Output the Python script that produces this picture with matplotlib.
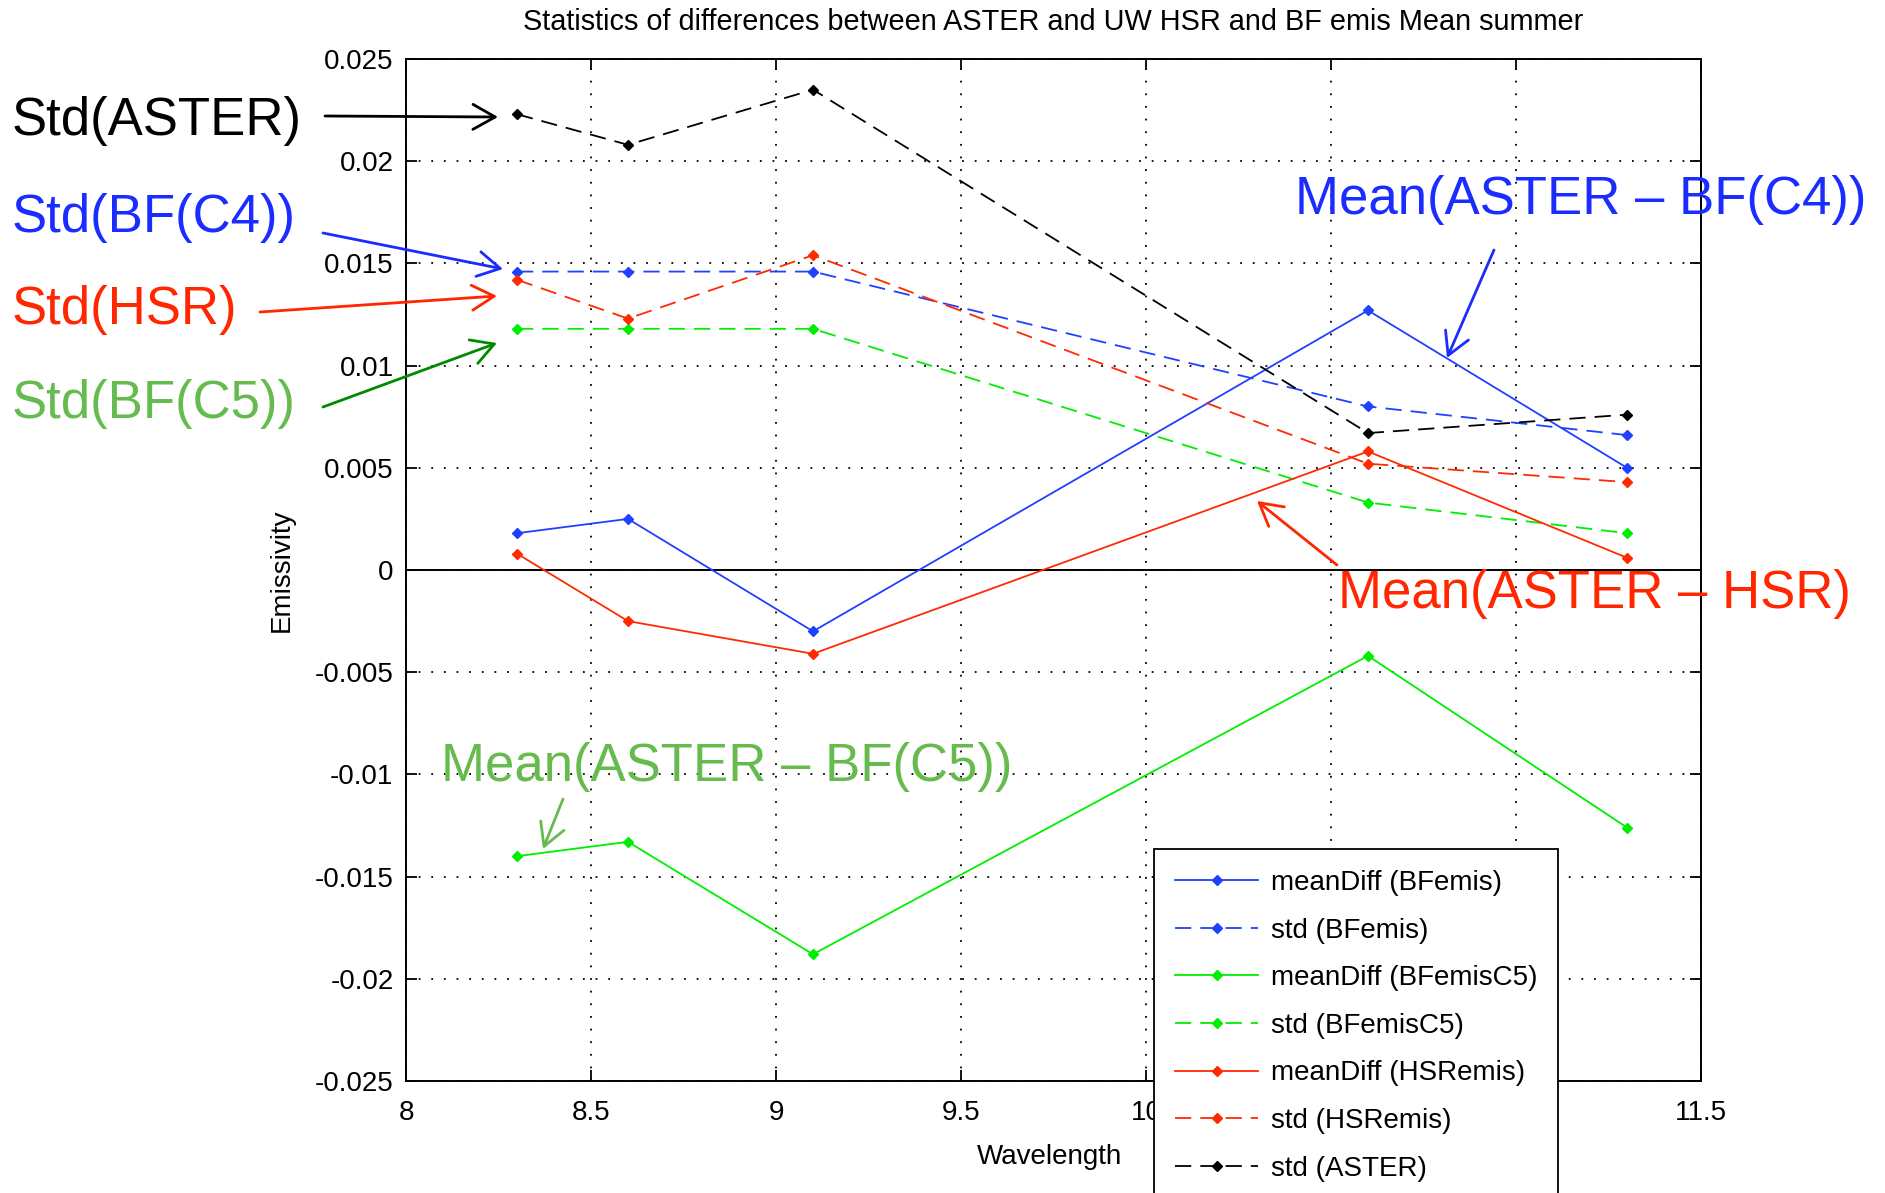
import matplotlib
matplotlib.use("Agg")
import matplotlib.pyplot as plt

plt.rcParams['font.family'] = ['Liberation Sans', 'DejaVu Sans']

# wavelengths of the ASTER TIR bands (um)
wavelength = [8.3, 8.6, 9.1, 10.6, 11.3]

# values
mean_bf = [0.0018, 0.0025, -0.0030, 0.0127, 0.0050]
std_bf = [0.0146, 0.0146, 0.0146, 0.0080, 0.0066]
mean_bf_c5 = [-0.0140, -0.0133, -0.0188, -0.0042, -0.0126]
std_bf_c5 = [0.0118, 0.0118, 0.0118, 0.0033, 0.0018]
mean_hsr = [0.0008, -0.0025, -0.0041, 0.0058, 0.0006]
std_hsr = [0.0142, 0.0123, 0.0154, 0.0052, 0.0043]
std_aster = [0.0223, 0.0208, 0.0235, 0.0067, 0.0076]

legend_labels = ["meanDiff (BFemis)", "std (BFemis)", "meanDiff (BFemisC5)",
                 "std (BFemisC5)", "meanDiff (HSRemis)", "std (HSRemis)",
                 "std (ASTER)"]

x_ticks = [8, 8.5, 9, 9.5, 10, 10.5, 11, 11.5]
y_ticks = [-0.025, -0.02, -0.015, -0.01, -0.005, 0, 0.005, 0.01, 0.015, 0.02, 0.025]
y_tick_labels = ["-0.025", "-0.02", "-0.015", "-0.01", "-0.005", "0",
                 "0.005", "0.01", "0.015", "0.02", "0.025"]

BLUE = "#2040ff"
GREEN = "#00ee00"
RED = "#ff2a00"
DASH = (0, (9, 5))

W, H = 1885, 1193
fig = plt.figure(figsize=(W / 100, H / 100), dpi=100)
ax = fig.add_axes([406 / W, 1 - 1081 / H, (1701 - 406) / W, (1081 - 59) / H])

series = [
    (mean_bf, BLUE, "-"),
    (std_bf, BLUE, DASH),
    (mean_bf_c5, GREEN, "-"),
    (std_bf_c5, GREEN, DASH),
    (mean_hsr, RED, "-"),
    (std_hsr, RED, DASH),
    (std_aster, "black", DASH),
]
for (vals, col, ls), lab in zip(series, legend_labels):
    ax.plot(wavelength, vals, color=col, linestyle=ls, lw=1.3,
            marker="D", ms=5, label=lab)

ax.axhline(0, color="black", lw=1.4, zorder=1)

ax.set_xlim(8, 11.5)
ax.set_ylim(-0.025, 0.025)
ax.set_xticks(x_ticks)
ax.set_xticklabels([f"{t:g}" for t in x_ticks])
ax.set_yticks(y_ticks)
ax.set_yticklabels(y_tick_labels)
ax.grid(True, color="black", linestyle=(0, (1, 6)), lw=1.3)
ax.set_axisbelow(True)
ax.tick_params(direction="in", length=8, width=1.3, top=True, right=True,
               labelsize=20)
ax.tick_params(axis="x", pad=14)
ax.tick_params(axis="y", pad=9)
for sp in ax.spines.values():
    sp.set_linewidth(1.4)

ax.set_xlabel("Wavelength", fontsize=20)
ax.xaxis.set_label_coords(0.497, (1081 - 1144) / 1022)
ax.set_ylabel("Emissivity", fontsize=20)
ax.yaxis.set_label_coords((295 - 406) / 1295, 0.5)
ax.text(0.5, 1 + (59 - 22) / 1022,
        "Statistics of differences between ASTER and UW HSR and BF emis Mean summer",
        transform=ax.transAxes, ha="center", va="center", fontsize=20.8)

leg = ax.legend(loc="upper left", bbox_to_anchor=(1154 / W, 1 - 849 / H),
                bbox_transform=fig.transFigure, borderaxespad=0, fontsize=20,
                fancybox=False, edgecolor="black", framealpha=1,
                handlelength=3.0, handletextpad=0.45, labelspacing=0.78,
                borderpad=0.75, numpoints=1)
leg.get_frame().set_linewidth(1.3)


# callout labels added on top of the figure (pixel positions, y from top)
def fp(x, y):
    return (x, H - y)


callouts = [
    ("Std(ASTER)", "black", "black", (12, 121), (325, 116), (498, 117)),
    ("Std(BF(C4))", "#1a2cff", "#1a2cff", (12, 218), (323, 233), (503, 269)),
    ("Std(HSR)", "#ff2600", "#ff2600", (12, 310), (260, 312), (497, 296)),
    ("Std(BF(C5))", "#66bb4f", "#008a00", (12, 404), (323, 407), (497, 343)),
    ("Mean(ASTER \u2013 BF(C4))", "#1a2cff", "#1a2cff", (1295, 200), (1494, 250), (1447, 358)),
    ("Mean(ASTER \u2013 HSR)", "#ff2600", "#ff2600", (1338, 594), (1337, 565), (1257, 501)),
    ("Mean(ASTER \u2013 BF(C5))", "#66bb4f", "#66bb4f", (441, 767), (563, 799), (543, 849)),
]
for text, tcol, acol, tpos, tail, head in callouts:
    fig.text(tpos[0] / W, 1 - tpos[1] / H, text, color=tcol, fontsize=38,
              ha="left", va="center")
    ax.annotate("", xy=fp(*head), xycoords="figure pixels",
                xytext=fp(*tail), textcoords="figure pixels",
                annotation_clip=False,
                arrowprops=dict(arrowstyle="->,head_length=0.8,head_width=0.45",
                                color=acol, lw=2, mutation_scale=20,
                                shrinkA=0, shrinkB=0))

fig.savefig("out.png", dpi=100)
